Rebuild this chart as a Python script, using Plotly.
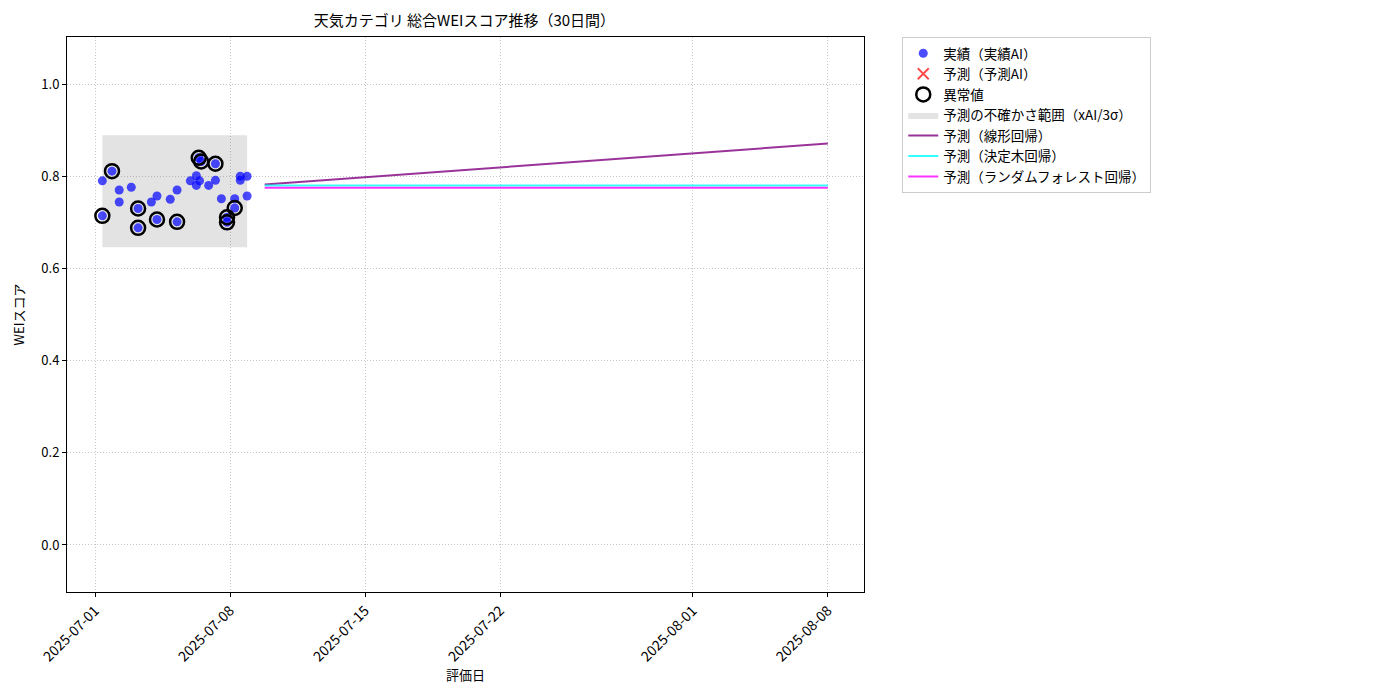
import plotly.graph_objects as go

# 実績データ（実績AI）
actual_dates = [
    "2025-07-01 09:00", "2025-07-01 09:00", "2025-07-01 21:00", "2025-07-02 06:00",
    "2025-07-02 06:00", "2025-07-02 21:00", "2025-07-03 05:30", "2025-07-03 05:30",
    "2025-07-03 22:00", "2025-07-04 05:00", "2025-07-04 05:00", "2025-07-04 21:30",
    "2025-07-05 06:00", "2025-07-05 06:00", "2025-07-05 22:30", "2025-07-06 06:00",
    "2025-07-06 06:00", "2025-07-06 09:00", "2025-07-06 10:00", "2025-07-06 12:00",
    "2025-07-06 21:20", "2025-07-07 05:45", "2025-07-07 05:45", "2025-07-07 13:10",
    "2025-07-07 20:10", "2025-07-07 20:10", "2025-07-08 05:45", "2025-07-08 05:45",
    "2025-07-08 12:40", "2025-07-08 12:40", "2025-07-08 21:10", "2025-07-08 21:10",
]
actual_values = [
    0.790, 0.714, 0.811, 0.770,
    0.744, 0.776, 0.730, 0.688,
    0.744, 0.757, 0.706, 0.750,
    0.770, 0.701, 0.790, 0.801,
    0.780, 0.840, 0.790, 0.832,
    0.780, 0.827, 0.791, 0.751,
    0.711, 0.700, 0.751, 0.731,
    0.800, 0.791, 0.800, 0.757,
]

# 異常値
anomaly_dates = [
    "2025-07-01 09:00", "2025-07-01 21:00", "2025-07-03 05:30", "2025-07-03 05:30",
    "2025-07-04 05:00", "2025-07-05 06:00", "2025-07-06 09:00", "2025-07-06 12:00",
    "2025-07-07 05:45", "2025-07-07 20:10", "2025-07-07 20:10", "2025-07-08 05:45",
]
anomaly_values = [
    0.714, 0.811, 0.730, 0.688,
    0.706, 0.701, 0.840, 0.832,
    0.827, 0.711, 0.700, 0.731,
]

# 予測の不確かさ範囲
band_dates = ["2025-07-01 09:00", "2025-07-08 21:10"]
band_lower = 0.646
band_upper = 0.889

# 予測モデル
pred_dates = ["2025-07-09 19:00", "2025-08-08 00:00"]
pred_linear = [0.782, 0.871]
pred_tree = [0.780, 0.780]
pred_rf = [0.775, 0.775]

x_ticks = ["2025-07-01", "2025-07-08", "2025-07-15", "2025-07-22", "2025-08-01", "2025-08-08"]
y_ticks = [0.0, 0.2, 0.4, 0.6, 0.8, 1.0]

font_family = "Noto Sans CJK JP, Noto Sans, sans-serif"

fig = go.Figure()

fig.add_trace(go.Scatter(
    x=[band_dates[0], band_dates[1], band_dates[1], band_dates[0], band_dates[0]],
    y=[band_lower, band_lower, band_upper, band_upper, band_lower],
    fill="toself", fillcolor="rgba(128,128,128,0.22)",
    line=dict(width=0), mode="lines",
    name="予測の不確かさ範囲（xAI/3σ）", legendrank=4, hoverinfo="skip"))

fig.add_trace(go.Scatter(
    x=actual_dates, y=actual_values, mode="markers",
    marker=dict(color="rgba(0,0,255,0.7)", size=9, line=dict(width=0)),
    name="実績（実績AI）", legendrank=1))

fig.add_trace(go.Scatter(
    x=[None], y=[None], mode="markers",
    marker=dict(symbol="x-thin", size=11, line=dict(color="rgba(255,0,0,0.7)", width=2)),
    name="予測（予測AI）", legendrank=2))

fig.add_trace(go.Scatter(
    x=anomaly_dates, y=anomaly_values, mode="markers",
    marker=dict(symbol="circle-open", size=14, color="black", line=dict(width=2.5)),
    name="異常値", legendrank=3))

fig.add_trace(go.Scatter(
    x=pred_dates, y=pred_linear, mode="lines",
    line=dict(color="rgba(128,0,128,0.8)", width=2),
    name="予測（線形回帰）", legendrank=5))
fig.add_trace(go.Scatter(
    x=pred_dates, y=pred_tree, mode="lines",
    line=dict(color="rgba(0,255,255,0.8)", width=2),
    name="予測（決定木回帰）", legendrank=6))
fig.add_trace(go.Scatter(
    x=pred_dates, y=pred_rf, mode="lines",
    line=dict(color="rgba(255,0,255,0.8)", width=2),
    name="予測（ランダムフォレスト回帰）", legendrank=7))

axis_common = dict(
    showline=True, linecolor="black", linewidth=1, mirror=True,
    ticks="outside", ticklen=4, tickcolor="black",
    showgrid=True, gridcolor="#c4c4c4", griddash="1px,2px", gridwidth=1,
    zeroline=False, tickfont=dict(size=13, color="black"), automargin=False,
)

fig.update_layout(
    width=1400, height=700,
    paper_bgcolor="white", plot_bgcolor="white",
    font=dict(family=font_family, color="black"),
    margin=dict(l=59, r=544, t=29, b=116),
    title=dict(text="天気カテゴリ 総合WEIスコア推移（30日間）", x=0.326, xanchor="center",
               y=0.982, yanchor="middle", font=dict(size=15)),
    showlegend=True,
    legend=dict(x=1.048, y=1.0, xanchor="left", yanchor="top",
                bordercolor="#cccccc", borderwidth=1, font=dict(size=13.5),
                tracegroupgap=0),
    xaxis=dict(axis_common, type="date",
               range=["2025-06-29 13:00", "2025-08-09 21:00"],
               tickvals=x_ticks, ticktext=x_ticks, tickangle=-45,
               tickfont=dict(size=14, color="black"),
               title=dict(text="評価日", font=dict(size=13), standoff=6)),
    yaxis=dict(axis_common, range=[-0.102, 1.102],
               tickvals=y_ticks, tickformat=".1f",
               title=dict(text="WEIスコア", font=dict(size=13), standoff=13)),
)

fig.write_html("out.html")
